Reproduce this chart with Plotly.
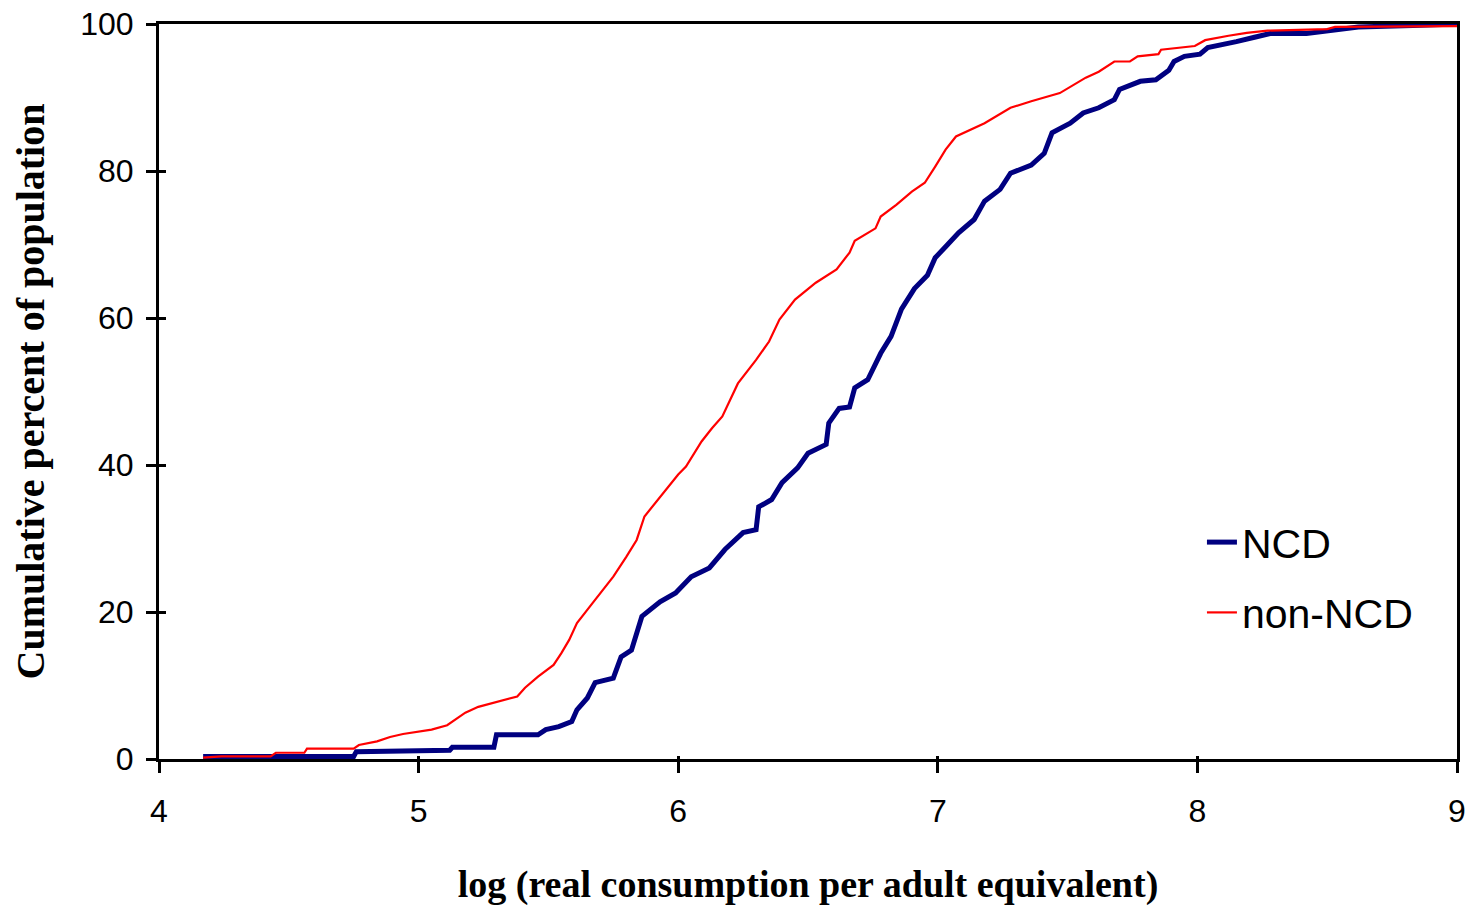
import plotly.graph_objects as go

# NCD
ncd_x = [4.17, 4.75, 4.76, 5.12, 5.13, 5.29, 5.30, 5.46, 5.49, 5.54, 5.59, 5.61, 5.65, 5.68,
         5.75, 5.78, 5.82, 5.86, 5.93, 5.99, 6.05, 6.12, 6.18, 6.25, 6.30, 6.31, 6.36, 6.40,
         6.46, 6.50, 6.57, 6.58, 6.62, 6.66, 6.68, 6.73, 6.78, 6.82, 6.86, 6.91, 6.96, 6.99,
         7.03, 7.08, 7.14, 7.18, 7.24, 7.28, 7.36, 7.41, 7.44, 7.51, 7.56, 7.62, 7.68, 7.70,
         7.78, 7.84, 7.89, 7.91, 7.95, 8.01, 8.04, 8.10, 8.15, 8.22, 8.28, 8.42, 8.51, 8.62,
         8.83, 9.00]
ncd_y = [0.35, 0.35, 1.0, 1.2, 1.6, 1.6, 3.3, 3.3, 4.0, 4.4, 5.1, 6.7, 8.3, 10.4,
         11.0, 13.9, 14.8, 19.4, 21.4, 22.6, 24.8, 26.0, 28.5, 30.8, 31.2, 34.3, 35.3, 37.6,
         39.6, 41.6, 42.8, 45.7, 47.7, 47.9, 50.5, 51.6, 55.2, 57.5, 61.2, 64.0, 65.8, 68.2,
         69.7, 71.6, 73.4, 75.9, 77.5, 79.7, 80.8, 82.4, 85.2, 86.5, 87.9, 88.6, 89.7, 91.1,
         92.2, 92.4, 93.7, 94.9, 95.6, 95.9, 96.8, 97.2, 97.6, 98.2, 98.7, 98.7, 99.1, 99.6,
         99.8, 100.0]

# non-NCD
non_x = [4.17, 4.24, 4.43, 4.45, 4.56, 4.57, 4.75, 4.77, 4.84, 4.89, 4.94, 5.00, 5.05, 5.11,
         5.15, 5.18, 5.23, 5.30, 5.38, 5.41, 5.46, 5.52, 5.55, 5.58, 5.61, 5.67, 5.75, 5.80,
         5.84, 5.87, 5.94, 6.00, 6.03, 6.09, 6.13, 6.17, 6.23, 6.30, 6.35, 6.39, 6.45, 6.53,
         6.61, 6.66, 6.68, 6.76, 6.78, 6.84, 6.90, 6.95, 6.99, 7.03, 7.07, 7.18, 7.28, 7.36,
         7.47, 7.57, 7.62, 7.68, 7.74, 7.77, 7.85, 7.86, 7.99, 8.03, 8.12, 8.19, 8.27, 8.50,
         8.53, 9.00]
non_y = [0.2, 0.35, 0.35, 0.85, 0.85, 1.4, 1.4, 1.9, 2.4, 3.0, 3.4, 3.7, 4.0, 4.6,
         5.6, 6.3, 7.1, 7.8, 8.5, 9.7, 11.2, 12.8, 14.4, 16.2, 18.5, 21.2, 24.8, 27.5,
         29.8, 33.0, 36.0, 38.7, 39.8, 43.2, 45.0, 46.6, 51.1, 54.3, 56.8, 59.8, 62.5, 64.8,
         66.6, 68.9, 70.5, 72.2, 73.8, 75.4, 77.2, 78.4, 80.6, 82.9, 84.7, 86.5, 88.6, 89.5,
         90.6, 92.7, 93.5, 94.9, 94.9, 95.6, 95.9, 96.5, 97.0, 97.8, 98.4, 98.8, 99.1, 99.3,
         99.6, 99.7]

x_ticks = [4, 5, 6, 7, 8, 9]
y_ticks = [0, 20, 40, 60, 80, 100]

fig = go.Figure()
fig.add_trace(go.Scatter(x=ncd_x, y=ncd_y, mode="lines", name="NCD",
                         line=dict(color="#000080", width=5), legendgroup="a"))
fig.add_trace(go.Scatter(x=non_x, y=non_y, mode="lines", name="non-NCD",
                         line=dict(color="#FF0000", width=2.2), legendgroup="b"))
# invisible helper trace for the inside tick overlay axes
fig.add_trace(go.Scatter(x=[4], y=[0], xaxis="x2", yaxis="y2", mode="markers",
                         marker=dict(opacity=0), showlegend=False, hoverinfo="skip"))

tick_font = dict(family="Liberation Sans, Arial", size=32, color="black")

fig.update_layout(
    width=1474, height=906,
    paper_bgcolor="white", plot_bgcolor="white",
    margin=dict(l=159, r=17, t=24, b=147, autoexpand=False),
    showlegend=True,
    legend=dict(x=0.8035, y=0.247, xanchor="left", yanchor="middle",
                font=dict(family="Liberation Sans, Arial", size=41, color="black"),
                bgcolor="rgba(0,0,0,0)", tracegroupgap=14, traceorder="grouped"),
    xaxis=dict(range=[4, 9], tickvals=x_ticks, ticktext=[str(v) for v in x_ticks],
               ticks="outside", ticklen=11, tickwidth=2.5, tickcolor="black",
               showline=True, linecolor="black", linewidth=3, mirror=True,
               showgrid=False, zeroline=False, tickfont=tick_font,
               ticklabelstandoff=11, automargin=False, ticklabeloverflow="allow",
               title=dict(text="<b>log (real consumption per adult equivalent)</b>",
                          font=dict(family="Liberation Serif, Times New Roman", size=38, color="black"),
                          standoff=50)),
    yaxis=dict(range=[0, 100], tickvals=y_ticks, ticktext=[str(v) for v in y_ticks],
               ticks="outside", ticklen=10, tickwidth=2.5, tickcolor="black",
               showline=True, linecolor="black", linewidth=3, mirror=True,
               showgrid=False, zeroline=False, tickfont=tick_font,
               ticklabelstandoff=6, automargin=False, ticklabeloverflow="allow",
               title=dict(text="<b>Cumulative percent of population</b>",
                          font=dict(family="Liberation Serif, Times New Roman", size=40, color="black"),
                          standoff=24)),
    xaxis2=dict(range=[4, 9], overlaying="x", anchor="y", side="bottom",
                tickvals=x_ticks, showticklabels=False, ticks="inside", ticklen=3,
                tickwidth=2.5, tickcolor="black", showline=False, showgrid=False, zeroline=False,
                automargin=False),
    yaxis2=dict(range=[0, 100], overlaying="y", anchor="x", side="left",
                tickvals=y_ticks, showticklabels=False, ticks="inside", ticklen=7,
                tickwidth=2.5, tickcolor="black", showline=False, showgrid=False, zeroline=False,
                automargin=False),
)

# remove the default 8px body margin so the figure fills the window exactly
fig.write_html("out.html", config={"displayModeBar": False},
               post_script="document.body.style.margin='0px';")
